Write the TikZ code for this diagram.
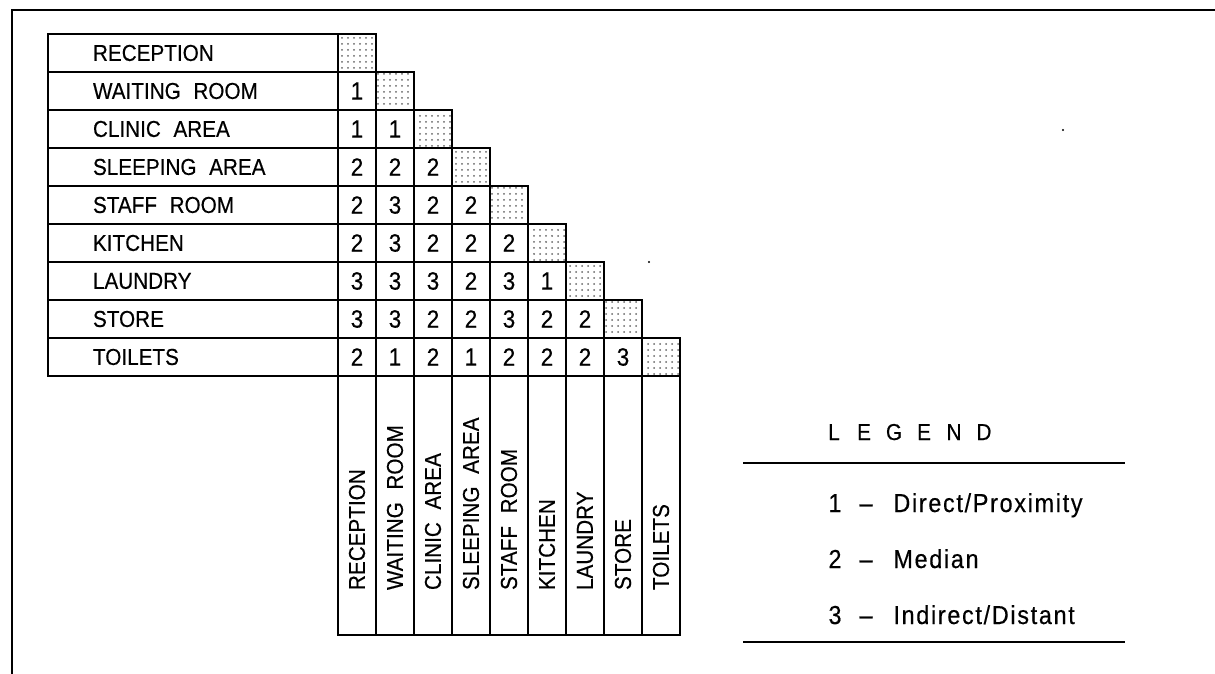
\documentclass[tikz,border=0pt]{standalone}
\usepackage{fontspec}
\setmainfont[FakeStretch=0.9, FakeBold=0.4]{Liberation Sans}
\usetikzlibrary{patterns}
\newcommand\ws{\hspace{0.55em}}
\tikzset{
  rowlab/.style = {rectangle, draw, line width=0.9pt, minimum width=145pt, minimum height=19pt,
    text width=145pt, inner xsep=0pt, inner ysep=0pt, align=left,
    execute at begin node=\hspace*{22.5pt}, font=\fontsize{11.5}{13}\selectfont},
  collab/.style = {rowlab, rotate=90, minimum width=129.5pt, text width=129.5pt},
  cell/.style = {rectangle, draw, line width=0.9pt, minimum size=19pt, inner sep=0pt,
    font=\fontsize{12.5}{14}\selectfont},
  diag/.style = {cell, pattern=dots, pattern color=black!60},
  legtitle/.style = {inner sep=0pt, anchor=base, font=\fontsize{11.5}{13}\selectfont},
  legtxt/.style = {inner sep=0pt, anchor=base, font=\fontsize{13}{15}\selectfont\addfontfeature{LetterSpace=6.5}},
  legline/.style = {line width=1pt}
}
\begin{document}
\begin{tikzpicture}[x=0.5pt, y=-0.5pt]
\useasboundingbox (0,0) rectangle (1215,674);
\clip (0,0) rectangle (1215,674);

% sheet frame
\draw[line width=1pt] (12,10) rectangle (1240,700);

% row and column labels, shaded diagonal
\foreach \name [count=\i from 0] in {RECEPTION, WAITING\ws ROOM, CLINIC\ws AREA, SLEEPING\ws AREA,
    STAFF\ws ROOM, KITCHEN, LAUNDRY, STORE, TOILETS} {
  \node[rowlab] (row\i) at (193,53+38*\i) {\name};
  \node[diag] (d\i) at (357+38*\i,53+38*\i) {};
  \node[collab] (col\i) at (357+38*\i,505.5) {\name};
}

% relationship values
\foreach \vals [count=\i] in {{1},{1,1},{2,2,2},{2,3,2,2},{2,3,2,2,2},{3,3,3,2,3,1},
    {3,3,2,2,3,2,2},{2,1,2,1,2,2,2,3}}
  \foreach \v [count=\j from 0] in \vals
    \node[cell] (c\i-\j) at (357+38*\j,53+38*\i) {\v};

% legend
\foreach \ch [count=\k from 0] in {L,E,G,E,N,D}
  \node[legtitle] (lg\k) at (834+30*\k,440) {\ch};
\draw[legline] (743,463) -- (1125,463);

\node[legtxt] (n1) at (835,512) {1};
\node[legtxt] (m1) at (866,512) {--};
\node[legtxt, anchor=base west] (t1) at (893,512) {Direct/Proximity};

\node[legtxt] (n2) at (835,568) {2};
\node[legtxt] (m2) at (866,568) {--};
\node[legtxt, anchor=base west] (t2) at (893,568) {Median};

\node[legtxt] (n3) at (835,624) {3};
\node[legtxt] (m3) at (866,624) {--};
\node[legtxt, anchor=base west] (t3) at (893,624) {Indirect/Distant};

\draw[legline] (743,642) -- (1125,642);

% specks
\fill (649,262) circle (1.2);
\fill (1063,130) circle (1.2);

\end{tikzpicture}
\end{document}
